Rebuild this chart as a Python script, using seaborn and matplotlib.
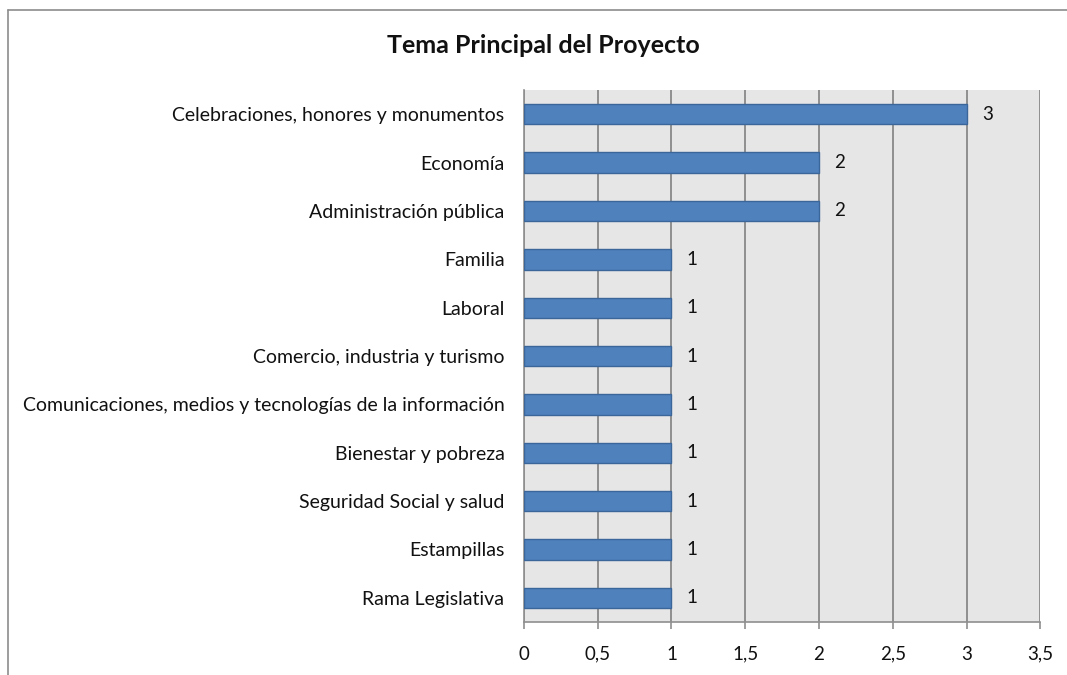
import matplotlib
matplotlib.use("Agg")
import matplotlib.pyplot as plt
from matplotlib.lines import Line2D
from matplotlib.ticker import FuncFormatter, FixedLocator
import seaborn as sns
import pandas as pd

temas = ['Celebraciones, honores y monumentos', 'Economía', 'Administración pública',
         'Familia', 'Laboral', 'Comercio, industria y turismo',
         'Comunicaciones, medios y tecnologías de la información', 'Bienestar y pobreza',
         'Seguridad Social y salud', 'Estampillas', 'Rama Legislativa']
proyectos = [3, 2, 2, 1, 1, 1, 1, 1, 1, 1, 1]

df = pd.DataFrame({'Tema': temas, 'Proyectos': proyectos})

sns.set_style('white')
plt.rcParams['font.family'] = ['Lato', 'DejaVu Sans']

fig = plt.figure(figsize=(10.67, 6.75), dpi=100)
ax = fig.add_axes([0.491, 0.0785, 0.484, 0.788])

# marco exterior del gráfico (solo bordes izquierdo y superior visibles)
x0, y0 = 8 / 1067, 1 - 10 / 675
fig.add_artist(Line2D([x0, x0], [-0.05, y0], transform=fig.transFigure, color='#8c8c8c', lw=1.2))
fig.add_artist(Line2D([x0, 1.05], [y0, y0], transform=fig.transFigure, color='#8c8c8c', lw=1.2))

ax.set_facecolor('#e6e6e6')
sns.barplot(data=df, x='Proyectos', y='Tema', orient='h', color='#4f81bd',
            edgecolor='#3b669a', linewidth=1.0, width=0.42, saturation=1, ax=ax, zorder=3)

ax.bar_label(ax.containers[0], padding=11, fontsize=13.5, color='#111111')

ax.set_xlim(0, 3.5)
ax.set_ylim(len(temas) - 0.5, -0.5)
ax.set_xticks([0, 0.5, 1, 1.5, 2, 2.5, 3, 3.5])
ax.xaxis.set_major_formatter(FuncFormatter(lambda v, p: f'{v:g}'.replace('.', ',')))
ax.grid(axis='x', color='#8f8f8f', linewidth=1.4, zorder=0)
ax.grid(axis='y', visible=False)
ax.set_axisbelow(True)

ax.yaxis.set_minor_locator(FixedLocator([i - 0.5 for i in range(len(temas) + 1)]))
ax.tick_params(axis='y', which='major', length=0, pad=14, labelsize=14, labelcolor='#111111')
ax.tick_params(axis='y', which='minor', length=5, width=1.2, color='#8f8f8f', direction='out')
ax.tick_params(axis='x', length=5, width=1.2, color='#8f8f8f', direction='out',
               bottom=True, pad=12, labelsize=13.5, labelcolor='#111111')

for s in ['top', 'right']:
    ax.spines[s].set_visible(False)
for s in ['left', 'bottom']:
    ax.spines[s].set_color('#8f8f8f')
    ax.spines[s].set_linewidth(1.2)

ax.set_xlabel('')
ax.set_ylabel('')

fig.text(0.509, 0.933, 'Tema Principal del Proyecto', ha='center', va='center',
         fontsize=18, fontweight='bold', color='#111111')

fig.savefig('out.png', dpi=100, facecolor='white')
